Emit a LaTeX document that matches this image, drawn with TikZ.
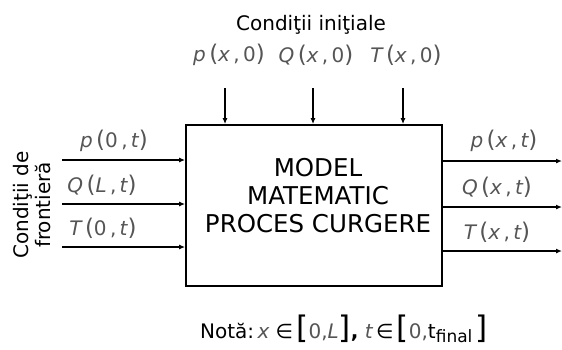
\documentclass[tikz,border=0pt]{standalone}
\usepackage{fontspec}
\setmainfont{DejaVu Sans}
\usetikzlibrary{arrows.meta}
\definecolor{labgray}{HTML}{555555}
\newcommand{\lb}[1]{{\color{labgray}#1}}
\newcommand{\iv}[1]{{\itshape #1}}
\newcommand{\bp}[1]{{\fontsize{23}{23}\selectfont #1}}
\begin{document}
\begin{tikzpicture}[x=1pt,y=-1pt,
  arr/.style={line width=1.8pt,-{Latex[length=6pt,width=5pt]}},
  varr/.style={line width=1.4pt,-{Latex[length=6pt,width=5pt]}},
  lab/.style={font=\fontsize{20}{22}\selectfont,text=labgray,inner sep=0pt},
  ttl/.style={font=\fontsize{20}{22}\selectfont,inner sep=0pt}]
\useasboundingbox (0,0) rectangle (562,349);
\node[draw,line width=1.8pt,minimum width=256pt,minimum height=161pt,inner sep=0pt] (box) at (314,205.5) {};
\node[font=\fontsize{24.5}{28}\selectfont,align=center,inner sep=0pt] (txt) at (318,196) {MODEL\\MATEMATIC\\PROCES CURGERE};
% top
\node[ttl] (ci) at (311,25) {Condiţii iniţiale};
\node[lab] (p0) at (229,55) {\iv{p}\,\bp{(}\iv{x}\,,\,0\bp{)}};
\node[lab] (q0) at (316,55) {\iv{Q}\,\bp{(}\iv{x}\,,\,0\bp{)}};
\node[lab] (t0) at (406,55) {\iv{T}\,\bp{(}\iv{x}\,,\,0\bp{)}};
\coordinate (a1) at (225,88);
\coordinate (a2) at (313,88);
\coordinate (a3) at (403,88);
\draw[varr] (a1) -- (a1 |- box.north);
\draw[varr] (a2) -- (a2 |- box.north);
\draw[varr] (a3) -- (a3 |- box.north);
% left
\node[ttl,rotate=90,align=center] (cf) at (32,205) {Condiţii de\\frontieră};
\node[lab] (pl) at (114,141) {\iv{p}\,\bp{(}0\,,\,\iv{t}\bp{)}};
\node[lab] (ql) at (102,185) {\iv{Q}\,\bp{(}\iv{L}\,,\,\iv{t}\bp{)}};
\node[lab] (tl) at (103,228) {\iv{T}\,\bp{(}0\,,\,\iv{t}\bp{)}};
\coordinate (i1) at (62,160);
\coordinate (i2) at (62,204);
\coordinate (i3) at (62,247);
\draw[arr] (i1) -- (i1 -| box.west);
\draw[arr] (i2) -- (i2 -| box.west);
\draw[arr] (i3) -- (i3 -| box.west);
% right
\node[lab] (pr) at (504,141) {\iv{p}\,\bp{(}\iv{x}\,,\,\iv{t}\bp{)}};
\node[lab] (qr) at (497,187) {\iv{Q}\,\bp{(}\iv{x}\,,\,\iv{t}\bp{)}};
\node[lab] (tr) at (497,232) {\iv{T}\,\bp{(}\iv{x}\,,\,\iv{t}\bp{)}};
\coordinate (o1) at (562,161);
\coordinate (o2) at (562,207);
\coordinate (o3) at (562,251);
\draw[arr] (o1 -| box.east) -- (o1);
\draw[arr] (o2 -| box.east) -- (o2);
\draw[arr] (o3 -| box.east) -- (o3);
% note
\node[ttl,anchor=base] (nota) at (344,338) {Notă:\lb{\,\iv{x}} ∈\,{\fontsize{31}{31}\selectfont[}\lb{0,\iv{L}}{\fontsize{31}{31}\selectfont]}\textbf{,} \lb{\iv{t}}\,∈\,{\fontsize{31}{31}\selectfont[}\lb{0,}t\raisebox{-4pt}{\fontsize{17}{17}\selectfont final}\,{\fontsize{31}{31}\selectfont]}};
\end{tikzpicture}
\end{document}
